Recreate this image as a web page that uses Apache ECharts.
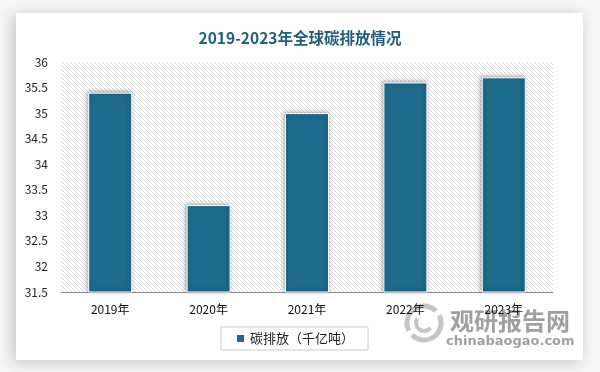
<!DOCTYPE html>
<html>
<head>
<meta charset="utf-8">
<script src="https://cdn.jsdelivr.net/npm/echarts@6/dist/echarts.min.js"></script>
<style>
html,body{margin:0;padding:0;background:#f7f7f7;}
#main{width:600px;height:372px;}
</style>
</head>
<body>
<div id="main"></div>
<script>
const titleText = '2019-2023年全球碳排放情况';
const categories = ['2019年', '2020年', '2021年', '2022年', '2023年'];
const seriesName = '碳排放（千亿吨）';
const values = [35.4, 33.2, 35.0, 35.6, 35.7];

// hatch pattern
const pc = document.createElement('canvas');
pc.width = 4; pc.height = 4;
const ctx = pc.getContext('2d');
ctx.fillStyle = '#ffffff';
ctx.fillRect(0, 0, 4, 4);
ctx.strokeStyle = '#dadada';
ctx.lineWidth = 1;
for (let k = -2; k <= 2; k++) {
  ctx.beginPath();
  ctx.moveTo(k * 4, 0);
  ctx.lineTo(k * 4 + 4, 4);
  ctx.stroke();
}

const font = '"Noto Sans CJK SC", "Noto Sans", sans-serif';
const chart = echarts.init(document.getElementById('main'));
chart.setOption({
  backgroundColor: '#f7f7f7',
  animation: false,
  textStyle: { fontFamily: font },
  title: {
    text: titleText,
    left: 'center',
    top: 25,
    textStyle: { color: '#215e7b', fontSize: 15.5, fontWeight: 'bold', fontFamily: font }
  },
  graphic: [
    {
      type: 'rect', z: -10,
      shape: { x: 16, y: 13, width: 567, height: 347 },
      style: { fill: '#ffffff', shadowBlur: 14, shadowColor: 'rgba(0,0,0,0.22)', shadowOffsetX: -3, shadowOffsetY: 2 }
    },
    {
      type: 'group', z: 100,
      children: [
        { type: 'arc', shape: { cx: 424, cy: 323, r: 17, startAngle: Math.PI * 0.85, endAngle: Math.PI * 1.75 }, style: { stroke: 'rgba(150,150,150,0.55)', lineWidth: 5, fill: null } },
        { type: 'arc', shape: { cx: 424, cy: 323, r: 17, startAngle: -Math.PI * 0.15, endAngle: Math.PI * 0.75 }, style: { stroke: 'rgba(150,150,150,0.55)', lineWidth: 5, fill: null } },
        { type: 'arc', shape: { cx: 424, cy: 323, r: 8, startAngle: Math.PI * 0.2, endAngle: Math.PI * 1.2 }, style: { stroke: 'rgba(150,150,150,0.55)', lineWidth: 4, fill: null } },
        { type: 'text', x: 450, y: 309, style: { text: '观研报告网', fill: 'rgba(120,120,120,0.7)', font: 'bold 24px "Noto Sans CJK SC"' } },
        { type: 'text', x: 446, y: 335, style: { text: 'chinabaogao.com', fill: 'rgba(120,120,120,0.7)', font: 'bold 13px "DejaVu Sans", sans-serif' } }
      ]
    }
  ],
  legend: {
    data: [seriesName],
    left: 221,
    top: 327,
    padding: [5, 14],
    borderColor: '#cccccc',
    borderWidth: 1,
    backgroundColor: '#ffffff',
    itemWidth: 9,
    itemHeight: 9,
    itemGap: 5,
    icon: 'rect',
    textStyle: { fontSize: 13, color: '#222', fontFamily: font }
  },
  grid: {
    left: 61, right: 47, top: 62, bottom: 80,
    show: true,
    borderWidth: 0,
    backgroundColor: { image: pc, repeat: 'repeat' }
  },
  xAxis: {
    type: 'category',
    data: categories,
    axisLine: { lineStyle: { color: '#8c8c8c', width: 1 } },
    axisTick: { show: false },
    axisLabel: { color: '#111', fontSize: 12, margin: 11, fontFamily: font }
  },
  yAxis: {
    type: 'value',
    min: 31.5,
    max: 36,
    interval: 0.5,
    axisLine: { show: false },
    axisTick: { show: false },
    splitLine: { show: false },
    axisLabel: { color: '#222', fontSize: 12, margin: 13, fontFamily: font }
  },
  series: [{
    name: seriesName,
    type: 'bar',
    data: values,
    barWidth: 44,
    itemStyle: {
      color: '#1d6a8c',
      borderColor: '#ffffff',
      borderWidth: 1,
      shadowBlur: 4,
      shadowColor: 'rgba(0,0,0,0.35)',
      shadowOffsetX: -1,
      shadowOffsetY: -1
    }
  }]
});
</script>
</body>
</html>
